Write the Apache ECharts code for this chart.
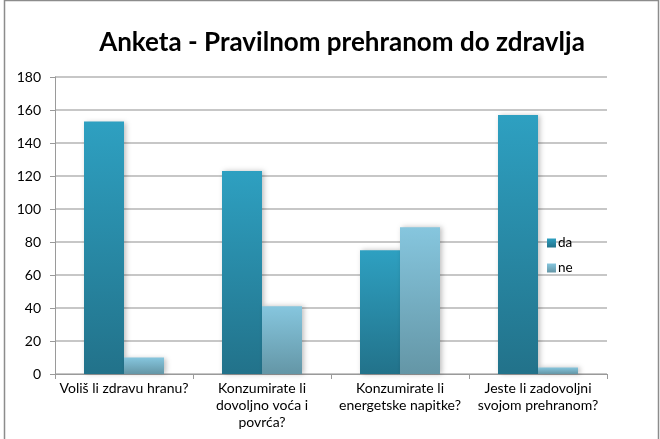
<!DOCTYPE html>
<html>
<head>
<meta charset="utf-8">
<script src="https://cdn.jsdelivr.net/npm/echarts@6/dist/echarts.min.js"></script>
<style>
  html, body { margin: 0; padding: 0; background: #fff; }
  #chart { width: 660px; height: 439px; }
</style>
</head>
<body>
<div id="chart"></div>
<script>
const categories = [
  "Voliš li zdravu hranu?",
  "Konzumirate li\ndovoljno voća i\npovrća?",
  "Konzumirate li\nenergetske napitke?",
  "Jeste li zadovoljni\nsvojom prehranom?"
]
const daValues = [153, 123, 75, 157]
const neValues = [10, 41, 89, 4]

const grad = (top, bottom) => new echarts.graphic.LinearGradient(0, 0, 0, 1, [
  {offset: 0, color: top},
  {offset: 1, color: bottom}
])

const chart = echarts.init(document.getElementById("chart"))
chart.setOption({
  animation: false,
  textStyle: {fontFamily: "Lato"},
  title: {
    text: "Anketa - Pravilnom prehranom do zdravlja",
    left: 337, top: 25, textAlign: "center",
    textStyle: {fontFamily: "Lato", fontWeight: "bold", fontSize: 26, color: "#000"}
  },
  graphic: [{
    type: "rect", left: 2, top: -2, shape: {width: 654, height: 444},
    style: {fill: "none", stroke: "#8c8c8c", lineWidth: 1.5}, silent: true
  }],
  legend: {
    orient: "vertical", left: 542, top: 231, itemWidth: 9, itemHeight: 9,
    itemGap: 11, icon: "rect",
    textStyle: {fontSize: 13.5, color: "#000", padding: [0, 0, 0, -3]},
    data: ["da", "ne"]
  },
  grid: {left: 55, right: 53, top: 77, bottom: 65},
  xAxis: {
    type: "category", data: categories,
    axisLine: {lineStyle: {color: "#9a9a9a"}},
    axisTick: {show: true, length: 5, lineStyle: {color: "#9a9a9a"}},
    axisLabel: {color: "#000", fontSize: 14, lineHeight: 17, margin: 6, interval: 0}
  },
  yAxis: {
    type: "value", min: 0, max: 180, interval: 20,
    axisLine: {show: true, lineStyle: {color: "#9a9a9a"}},
    axisTick: {show: true, length: 5, lineStyle: {color: "#9a9a9a"}},
    splitLine: {lineStyle: {color: "#b4b4b4", width: 1.5}},
    axisLabel: {color: "#000", fontSize: 14, margin: 14}
  },
  series: [
    {
      name: "da", type: "bar", data: daValues, barWidth: 40, barGap: "0%",
      itemStyle: {color: grad("#2ea0c1", "#22728a"), shadowColor: "rgba(0,0,0,0.25)", shadowBlur: 5, shadowOffsetX: 2}
    },
    {
      name: "ne", type: "bar", data: neValues, barWidth: 40,
      itemStyle: {color: grad("#86c6de", "#6496a6"), shadowColor: "rgba(0,0,0,0.25)", shadowBlur: 5, shadowOffsetX: 2}
    }
  ]
})
</script>
</body>
</html>
